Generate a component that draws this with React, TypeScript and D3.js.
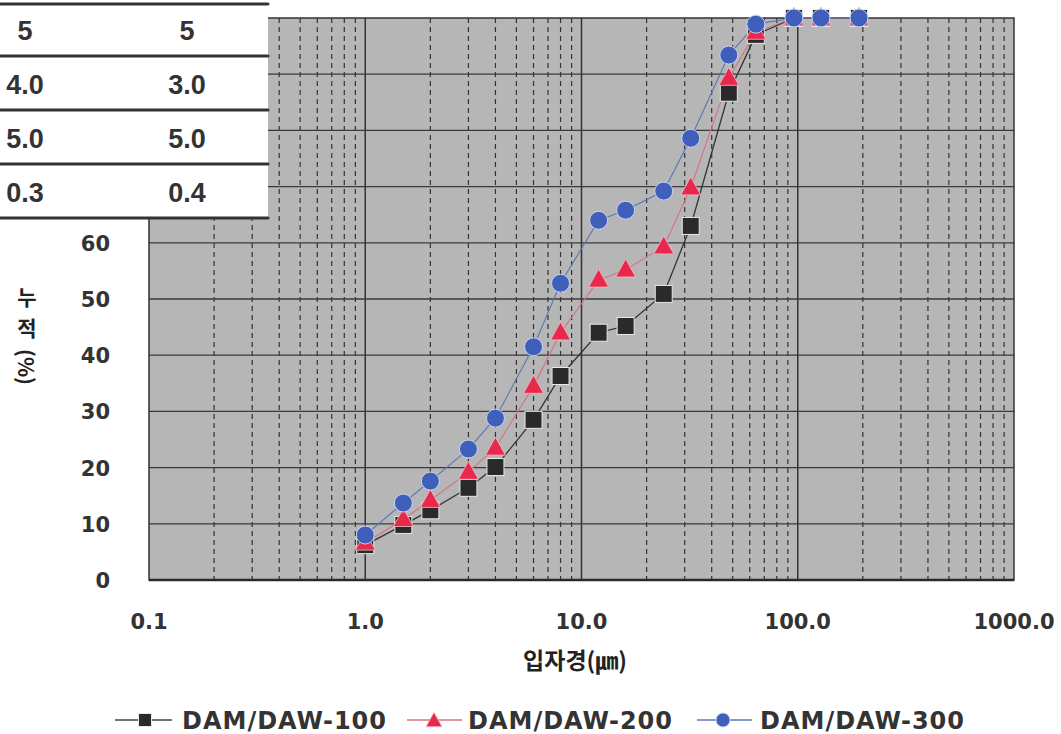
import React from "react";
import * as d3 from "d3";

const sizes = [1, 1.5, 2, 3, 4, 6, 8, 12, 16, 24, 32, 48, 64, 96, 128, 192];
const dam100 = [6.2, 9.8, 12.4, 16.4, 20.1, 28.5, 36.3, 44.0, 45.2, 50.9, 63.0, 86.7, 97.0, 100, 100, 100];
const dam200 = [6.6, 10.8, 14.2, 19.2, 23.5, 34.5, 44.0, 53.4, 55.2, 59.3, 69.8, 89.3, 97.5, 100, 100, 100];
const dam300 = [8.0, 13.7, 17.6, 23.3, 28.8, 41.5, 52.8, 64.0, 65.8, 69.2, 78.6, 93.4, 98.9, 100, 100, 100];
const seriesNames = ["DAM/DAW-100", "DAM/DAW-200", "DAM/DAW-300"];
const yTicks = [0, 10, 20, 30, 40, 50, 60];
const yGrid = [10, 20, 30, 40, 50, 60, 70, 80, 90];
const xTickVals = [0.1, 1, 10, 100, 1000];
const xTickLabels = ["0.1", "1.0", "10.0", "100.0", "1000.0"];
const tableCol1 = ["5", "4.0", "5.0", "0.3"];
const tableCol2 = ["5", "3.0", "5.0", "0.4"];
const yTitleChars = ["누", "적"];
const yTitleTail = "(%)";

const W = 1061, H = 734;
const L = 149, R = 1014, T = 18, B = 580;

export default function App() {
  const x = d3.scaleLog().domain([0.1, 1000]).range([L, R]);
  const y = d3.scaleLinear().domain([0, 100]).range([B, T]);
  const line = d3.line<number>().x((_, i) => x(sizes[i])).y((v) => y(v));

  const minors: number[] = [];
  [0.1, 1, 10, 100].forEach((d) => {
    for (let k = 2; k <= 9; k++) minors.push(d * k);
  });

  const num = "'DejaVu Sans', sans-serif";
  const kr = "'Noto Sans CJK KR', sans-serif";

  const sq = (cx: number, cy: number, s: number, key: any) => (
    <rect key={key} x={cx - s / 2} y={cy - s / 2} width={s} height={s} fill="#2a2a2a" stroke="#e8e8e8" strokeWidth={1} />
  );
  const tri = (cx: number, cy: number, s: number, key: any) => {
    const h = s * 0.9;
    return (
      <path key={key} d={`M${cx},${cy - h * 0.6}L${cx + s / 2},${cy + h * 0.4}L${cx - s / 2},${cy + h * 0.4}Z`} fill="#e8284c" stroke="#f0c0c8" strokeWidth={0.8} />
    );
  };
  const circ = (cx: number, cy: number, r: number, key: any) => (
    <circle key={key} cx={cx} cy={cy} r={r} fill="#3f5fbb" stroke="#c8d4f0" strokeWidth={1} />
  );

  return (
    <svg width={W} height={H} style={{ position: "absolute", left: 0, top: 0, background: "#fff" }}>
      {/* plot background */}
      <rect x={L} y={T} width={R - L} height={B - T} fill="#b6b6b6" />
      {/* minor vertical gridlines */}
      {minors.map((m, i) => (
        <line key={"mn" + i} x1={x(m)} x2={x(m)} y1={T} y2={B} stroke="#333" strokeWidth={1.2} strokeDasharray="5,4" />
      ))}
      {/* major vertical */}
      {[1, 10, 100].map((m) => (
        <line key={"mj" + m} x1={x(m)} x2={x(m)} y1={T} y2={B} stroke="#333" strokeWidth={1.5} />
      ))}
      {/* horizontal gridlines */}
      {yGrid.map((g) => (
        <line key={"hg" + g} x1={L} x2={R} y1={y(g)} y2={y(g)} stroke="#3a3a3a" strokeWidth={1.3} />
      ))}
      {/* border */}
      <rect x={L} y={T} width={R - L} height={B - T} fill="none" stroke="#333" strokeWidth={1.5} />
      <line x1={L} x2={R} y1={B} y2={B} stroke="#2a2a2a" strokeWidth={2.5} />

      {/* series lines */}
      <path d={line(dam100) || ""} fill="none" stroke="#333" strokeWidth={1.3} />
      <path d={line(dam200) || ""} fill="none" stroke="#d9707f" strokeWidth={1.1} />
      <path d={line(dam300) || ""} fill="none" stroke="#5b76b5" strokeWidth={1.1} />
      {/* markers */}
      {dam100.map((v, i) => sq(x(sizes[i]), y(v), 17, "s" + i))}
      {dam200.map((v, i) => tri(x(sizes[i]), y(v), 20, "t" + i))}
      {dam300.map((v, i) => circ(x(sizes[i]), y(v), 9, "c" + i))}

      {/* table overlay */}
      <rect x={0} y={0} width={268} height={218} fill="#fff" />
      {[4, 56, 110, 164, 218].map((ly, i) => (
        <line key={"tl" + i} x1={0} x2={268} y1={ly} y2={ly} stroke="#333" strokeWidth={3} strokeLinecap="round" />
      ))}
      {tableCol1.map((t, i) => (
        <text key={"ta" + i} x={25} y={30 + i * 54 + 10} textAnchor="middle" fontFamily="'Liberation Sans', Arial, sans-serif" fontWeight="bold" fontSize={27} fill="#333">{t}</text>
      ))}
      {tableCol2.map((t, i) => (
        <text key={"tb" + i} x={187} y={30 + i * 54 + 10} textAnchor="middle" fontFamily="'Liberation Sans', Arial, sans-serif" fontWeight="bold" fontSize={27} fill="#333">{t}</text>
      ))}

      {/* y tick labels */}
      {yTicks.map((t) => (
        <text key={"yt" + t} x={110} y={y(t) + 8} textAnchor="end" fontFamily={num} fontWeight="bold" fontSize={21} fill="#333">{t}</text>
      ))}
      {/* x tick labels */}
      {xTickVals.map((v, i) => (
        <text key={"xt" + v} x={x(v)} y={629} textAnchor="middle" fontFamily={num} fontWeight="bold" fontSize={21} fill="#333">{xTickLabels[i]}</text>
      ))}
      {/* axis titles */}
      {yTitleChars.map((c, i) => (
        <text key={"yc" + i} x={27} y={305 + i * 31} textAnchor="middle" fontFamily={kr} fontWeight="bold" fontSize={21} fill="#222">{c}</text>
      ))}
      <text transform="translate(27,367) rotate(90)" textAnchor="middle" dominantBaseline="central" fontFamily={kr} fontWeight="bold" fontSize={21} fill="#222">{yTitleTail}</text>
      <text x={575} y={669} textAnchor="middle" fontFamily={kr} fontWeight="bold" fontSize={23} fill="#222">입자경(㎛)</text>

      {/* legend */}
      <g>
        <line x1={115} x2={172} y1={720} y2={720} stroke="#444" strokeWidth={1.3} />
        {sq(145, 720, 13, "lg1")}
        <text x={182} y={729} fontFamily={num} fontWeight="bold" fontSize={24} letterSpacing={1} fill="#333">{seriesNames[0]}</text>
        <line x1={407} x2={462} y1={720} y2={720} stroke="#d9707f" strokeWidth={1.3} />
        {tri(434, 721, 16, "lg2")}
        <text x={468} y={729} fontFamily={num} fontWeight="bold" fontSize={24} letterSpacing={1} fill="#333">{seriesNames[1]}</text>
        <line x1={697} x2={752} y1={720} y2={720} stroke="#5b76b5" strokeWidth={1.3} />
        {circ(723, 720, 7, "lg3")}
        <text x={760} y={729} fontFamily={num} fontWeight="bold" fontSize={24} letterSpacing={1} fill="#333">{seriesNames[2]}</text>
      </g>
    </svg>
  );
}
